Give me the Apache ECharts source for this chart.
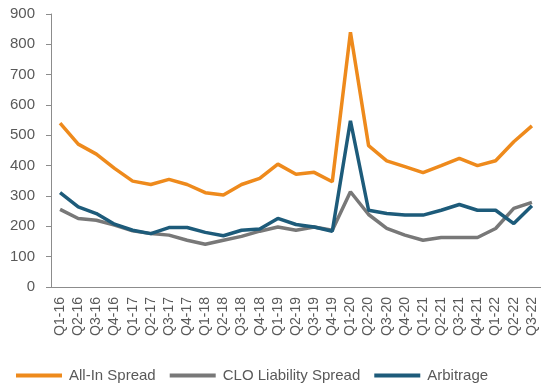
<!DOCTYPE html>
<html><head><meta charset="utf-8">
<script src="https://cdn.jsdelivr.net/npm/echarts@6/dist/echarts.min.js"></script>
<style>html,body{margin:0;padding:0;background:#fff}#c{width:541px;height:392px}</style>
</head><body><div id="c"></div>
<script>
const categories = ["Q1-16","Q2-16","Q3-16","Q4-16","Q1-17","Q2-17","Q3-17","Q4-17","Q1-18","Q2-18","Q3-18","Q4-18","Q1-19","Q2-19","Q3-19","Q4-19","Q1-20","Q2-20","Q3-20","Q4-20","Q1-21","Q2-21","Q3-21","Q4-21","Q1-22","Q2-22","Q3-22"];
const allInSpread = [540,471,438,391,349,338,355,338,311,303,338,358,405,372,378,347,840,466,416,397,377,400,424,400,416,479,531];
const cloLiabilitySpread = [256,226,220,204,185,176,171,154,141,154,167,184,198,187,198,187,314,239,193,171,154,163,163,163,193,259,279];
const arbitrage = [311,264,242,207,187,176,196,196,180,169,187,191,226,206,198,184,548,253,242,237,237,253,272,253,253,209,268];
const yTicks = [0,100,200,300,400,500,600,700,800,900];

const chart = echarts.init(document.getElementById('c'), null, {renderer:'canvas'});
const txt = '#595959';
chart.setOption({
  animation:false,
  grid:{left:51, right:-3, top:14, bottom:105, containLabel:false},
  legend:{
    bottom:9, left:16, icon:'rect', itemWidth:46, itemHeight:4, itemGap:14, padding:0,
    textStyle:{color:txt, fontSize:15, fontFamily:'Liberation Sans, Arial, sans-serif', padding:[0,0,0,2]},
    data:['All-In Spread','CLO Liability Spread','Arbitrage']
  },
  xAxis:{
    type:'category', data:categories, boundaryGap:true,
    axisLine:{lineStyle:{color:'#8c8c8c', width:1}},
    axisTick:{show:false},
    axisLabel:{rotate:90, interval:0, margin:10, color:txt, fontSize:14, fontFamily:'Liberation Sans, Arial, sans-serif'}
  },
  yAxis:{
    type:'value', min:yTicks[0], max:yTicks[yTicks.length-1], interval:100,
    axisLine:{show:true, lineStyle:{color:'#8c8c8c', width:1}},
    axisTick:{show:true, length:5, lineStyle:{color:'#8c8c8c'}},
    splitLine:{show:false},
    axisLabel:{margin:16, color:txt, fontSize:15, fontFamily:'Liberation Sans, Arial, sans-serif'}
  },
  series:[
    {name:'All-In Spread', type:'line', data:allInSpread, symbol:'none', lineStyle:{color:'#EE8A1C', width:3.5}, itemStyle:{color:'#EE8A1C'}},
    {name:'CLO Liability Spread', type:'line', data:cloLiabilitySpread, symbol:'none', lineStyle:{color:'#787878', width:3.5}, itemStyle:{color:'#787878'}},
    {name:'Arbitrage', type:'line', data:arbitrage, symbol:'none', lineStyle:{color:'#1D5B7A', width:3.5}, itemStyle:{color:'#1D5B7A'}}
  ]
});
</script></body></html>
